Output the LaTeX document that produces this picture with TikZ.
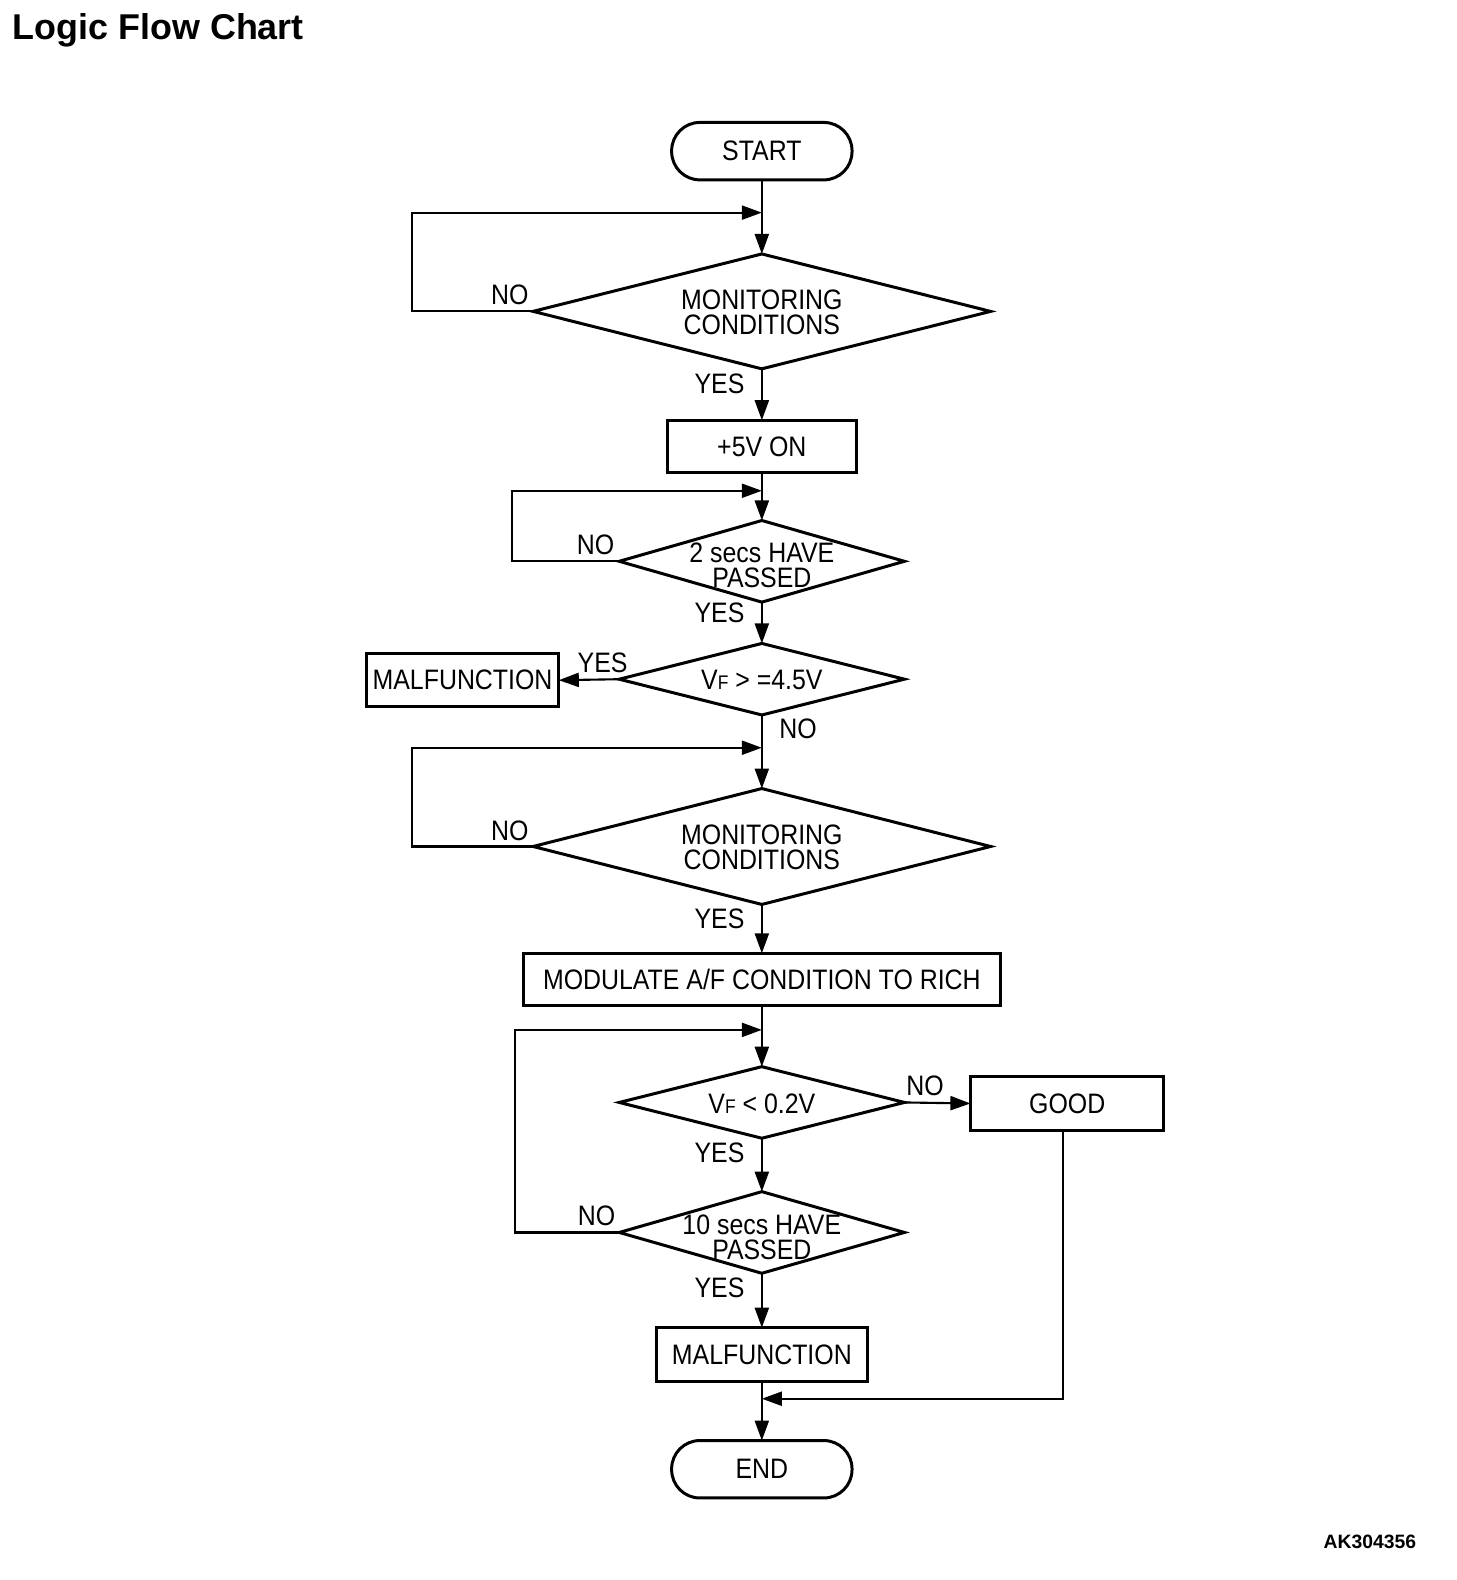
\documentclass[tikz,border=0pt]{standalone}
\usepackage{fontspec}
\setmainfont{Liberation Sans}[FakeStretch=0.885]
\newfontfamily\titlefont{Liberation Sans}
\usetikzlibrary{shapes.geometric,arrows.meta}
\newcommand\fs{\fontsize{8}{7.2}\selectfont}
\newcommand\vsub{{\fontsize{5.6}{5}\selectfont F}}
\newcommand\pxu{0.010077cm}
\begin{document}
\begin{tikzpicture}[x=0.010077cm,y=-0.010077cm,
 box/.style={draw,line width=0.85pt,rectangle,inner sep=0,outer sep=0,font=\fs},
 term/.style={draw,line width=0.85pt,rectangle,rounded corners=28*\pxu,inner sep=0,outer sep=0,minimum width=179*\pxu,minimum height=57*\pxu,font=\fs},
 dia/.style={draw,line width=0.85pt,diamond,inner sep=0,outer sep=0},
 arr/.style={line width=0.6pt,-{Triangle[length=5.7pt,width=4pt]}},
 lab/.style={inner sep=0,font=\fs},
 txt/.style={inner sep=0,font=\fs,align=center}]
\useasboundingbox (0,0) rectangle (1444.9,1567.9);

% title and id
\node[anchor=base west,inner sep=0,font=\titlefont\bfseries\fontsize{10.2}{12}\selectfont] (title) at (12,39) {Logic Flow Chart};
\node[anchor=base east,inner sep=0,font=\titlefont\bfseries\fontsize{5.5}{7}\selectfont] (code) at (1406,1537) {AK304356};

% nodes
\node[term] (start) at (756,150) {START};
\node[dia,minimum width=454*\pxu,minimum height=114*\pxu] (d1) at (756,309) {};
\node[txt] (t1) at (756,310) {MONITORING\\CONDITIONS};
\node[box,minimum width=187*\pxu,minimum height=52*\pxu] (b1) at (756,443) {+5V ON};
\node[dia,minimum width=283*\pxu,minimum height=81*\pxu] (d2) at (756,557) {};
\node[txt] (t2) at (756,561) {2 secs HAVE\\PASSED};
\node[dia,minimum width=283*\pxu,minimum height=71*\pxu] (d3) at (756,674) {};
\node[txt] (t3) at (756,675) {V\vsub\ > =4.5V};
\node[box,minimum width=191*\pxu,minimum height=53*\pxu] (m1) at (459,675) {MALFUNCTION};
\node[dia,minimum width=454*\pxu,minimum height=115*\pxu] (d4) at (756,840) {};
\node[txt] (t4) at (756,841) {MONITORING\\CONDITIONS};
\node[box,minimum width=473*\pxu,minimum height=52*\pxu] (b2) at (756,972) {MODULATE A/F CONDITION TO RICH};
\node[dia,minimum width=283*\pxu,minimum height=71*\pxu] (d5) at (756,1094) {};
\node[txt] (t5) at (756,1095) {V\vsub\ < 0.2V};
\node[box,minimum width=192*\pxu,minimum height=54*\pxu] (good) at (1059,1095) {GOOD};
\node[dia,minimum width=283*\pxu,minimum height=81*\pxu] (d6) at (756,1223) {};
\node[txt] (t6) at (756,1228) {10 secs HAVE\\PASSED};
\node[box,minimum width=209*\pxu,minimum height=53*\pxu] (m2) at (756,1344) {MALFUNCTION};
\node[term] (end) at (756,1458) {END};

% junction coordinates
\coordinate (j1) at (756,211);
\coordinate (j2) at (756,487);
\coordinate (j3) at (756,742);
\coordinate (j4) at (756,1022);
\coordinate (j5) at (756,1388);
\coordinate (g1) at (1055,1122);

% connectors
\draw[arr] (start) -- (d1.north);
\draw[arr] (d1.west) -- (409,309) |- (j1);
\draw[arr] (d1.south) -- (b1.north);
\draw[arr] (b1.south) -- (d2.north);
\draw[arr] (d2.west) -- (508,557) |- (j2);
\draw[arr] (d2.south) -- (d3.north);
\draw[arr] (d3.west) -- (m1.east);
\draw[arr] (d3.south) -- (d4.north);
\draw[arr] (d4.west) -- (409,840) |- (j3);
\draw[arr] (d4.south) -- (b2.north);
\draw[arr] (b2.south) -- (d5.north);
\draw[arr] (d5.east) -- (good.west);
\draw[arr] (d5.south) -- (d6.north);
\draw[arr] (d6.west) -- (511,1223) |- (j4);
\draw[arr] (d6.south) -- (m2.north);
\draw[arr] (m2.south) -- (end.north);
\draw[arr] (g1) |- (j5);

% labels
\node[lab] (n1) at (506,293) {NO};
\node[lab] (y1) at (714,381) {YES};
\node[lab] (n2) at (591,541) {NO};
\node[lab] (y2) at (714,608) {YES};
\node[lab] (y3) at (598,658) {YES};
\node[lab] (n3) at (792,723) {NO};
\node[lab] (n4) at (506,824) {NO};
\node[lab] (y4) at (714,912) {YES};
\node[lab] (n5) at (918,1077) {NO};
\node[lab] (y5) at (714,1144) {YES};
\node[lab] (n6) at (592,1206) {NO};
\node[lab] (y6) at (714,1278) {YES};
\end{tikzpicture}
\end{document}
